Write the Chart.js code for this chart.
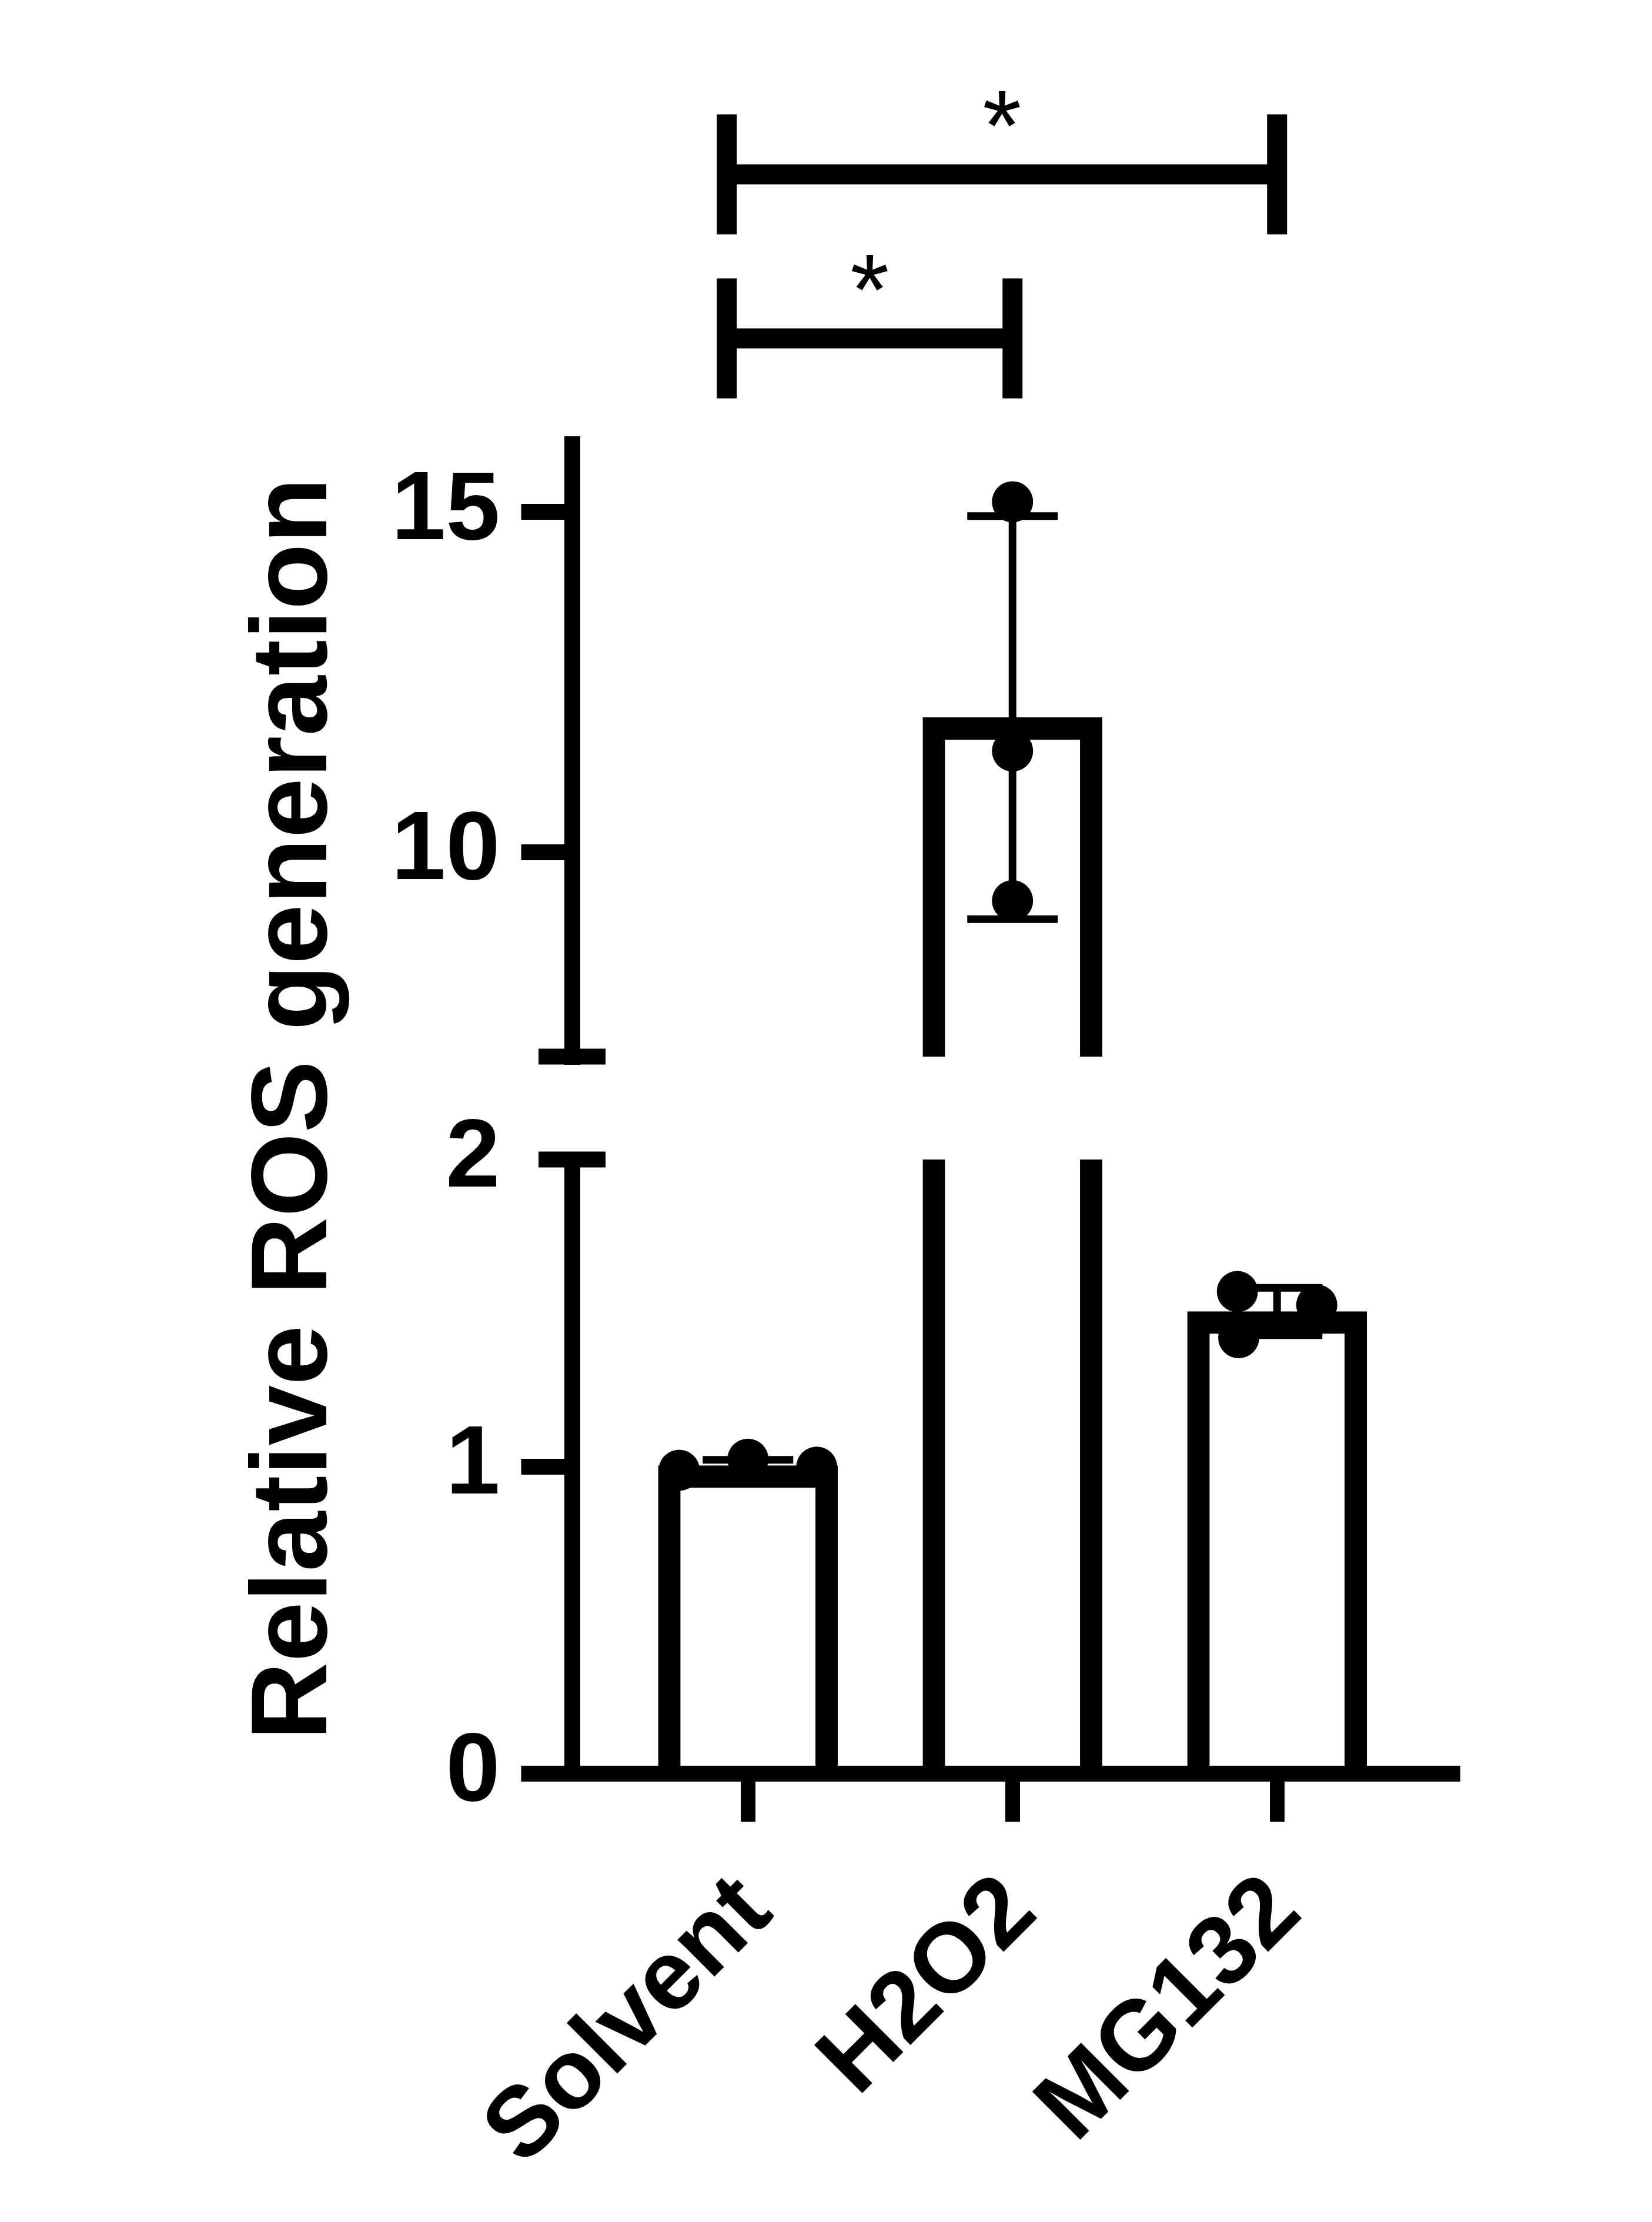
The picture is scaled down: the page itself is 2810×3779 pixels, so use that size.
<!DOCTYPE html>
<html>
<head>
<meta charset="utf-8">
<script src="https://cdn.jsdelivr.net/npm/chart.js@4.4.1/dist/chart.umd.min.js"></script>
<style>
  html, body { margin: 0; padding: 0; background: #ffffff; }
  canvas { display: block; }
</style>
</head>
<body>
<canvas id="chart" width="2810" height="3779" style="width:2810px;height:3779px"></canvas>
<script>
// ---------------- data ----------------
const CATEGORIES = ['Solvent', 'H2O2', 'MG132'];
const BAR_MEANS = [1.003, 11.98, 1.505];
const BAR_SD = [0.019, 2.96, 0.077];
const POINTS_SOLVENT = [0.988, 1.024, 0.998];
const POINTS_H2O2 = [15.15, 11.49, 9.29];
const POINTS_MG132 = [1.570, 1.420, 1.526];
// horizontal scatter spread of the replicate dots (category units)
const JITTER_SOLVENT = [-0.26, 0, 0.26];
const JITTER_H2O2 = [0, 0, 0];
const JITTER_MG132 = [-0.15, -0.145, 0.15];
const Y_LOW_TICKS = [0, 1, 2];
const Y_HIGH_TICKS = [10, 15];
const Y_LOW_RANGE = [0, 2];
const Y_HIGH_RANGE = [7, 16];
const SIG_PAIRS = [[0, 1], [0, 2]];
const SIG_LEVELS = [17.55, 19.96];
const SIG_LABELS = ['*', '*'];
const Y_TITLE = 'Relative ROS generation';

// ---------------- style ----------------
const FONT = '"Liberation Sans", Arial, sans-serif';
const AXIS_W = 27;
const BAR_BORDER = 38;
const BAR_WIDTH = 305;
const DOT_R = 35;
const ERR_W = 13;
const ERR_CAP = 77;
const BREAK_CAP = 57;
const BRACKET_W = 34;
const BRACKET_ARM = 102;
const BRACKET_LEFT_SHIFT = -36;

const pointGroups = [POINTS_SOLVENT, POINTS_H2O2, POINTS_MG132];
const jitterGroups = [JITTER_SOLVENT, JITTER_H2O2, JITTER_MG132];
const pointData = [];
pointGroups.forEach((g, i) => g.forEach((v, k) => pointData.push({ x: i + jitterGroups[i][k], y: v })));
const barData = BAR_MEANS.map((m, i) => ({ x: i, y: m }));

const barStyle = {
  type: 'bar', xAxisID: 'x', backgroundColor: '#ffffff', borderColor: '#000000',
  borderWidth: BAR_BORDER, borderSkipped: 'start', barThickness: BAR_WIDTH, grouped: false, order: 3
};
const dotStyle = {
  type: 'scatter', xAxisID: 'x', showLine: false, pointRadius: DOT_R, pointHoverRadius: DOT_R,
  pointBackgroundColor: '#000000', pointBorderWidth: 0, order: 1
};

// clip each dataset to the band of its own y scale (broken axis)
const breakClip = {
  id: 'breakClip',
  beforeDatasetDraw(chart, args) {
    const ys = args.meta.yScale;
    const ctx = chart.ctx;
    ctx.save();
    ctx.beginPath();
    ctx.rect(0, ys.top, chart.width, ys.bottom - ys.top);
    ctx.clip();
  },
  afterDatasetDraw(chart) { chart.ctx.restore(); }
};

const errorBars = {
  id: 'errorBars',
  afterDatasetsDraw(chart) {
    const { ctx, scales } = chart;
    const xs = scales.x;
    [scales.yLow, scales.yHigh].forEach(ys => {
      ctx.save();
      ctx.beginPath();
      ctx.rect(0, ys.top, chart.width, ys.bottom - ys.top);
      ctx.clip();
      ctx.strokeStyle = '#000';
      ctx.lineWidth = ERR_W;
      ctx.lineCap = 'butt';
      BAR_MEANS.forEach((m, i) => {
        const px = xs.getPixelForValue(i);
        const yt = ys.getPixelForValue(m + BAR_SD[i]);
        const yb = ys.getPixelForValue(m - BAR_SD[i]);
        ctx.beginPath();
        ctx.moveTo(px, yt); ctx.lineTo(px, yb);
        ctx.moveTo(px - ERR_CAP, yt); ctx.lineTo(px + ERR_CAP, yt);
        ctx.moveTo(px - ERR_CAP, yb); ctx.lineTo(px + ERR_CAP, yb);
        ctx.stroke();
      });
      ctx.restore();
    });
  }
};

const decorations = {
  id: 'decorations',
  afterDraw(chart) {
    const { ctx, scales } = chart;
    const xs = scales.x, yLow = scales.yLow, yHigh = scales.yHigh;
    const axisX = yLow.right;
    ctx.save();
    ctx.strokeStyle = '#000';
    ctx.fillStyle = '#000';
    ctx.lineCap = 'butt';
    // break caps
    ctx.lineWidth = AXIS_W;
    [[yLow, yLow.max], [yHigh, yHigh.min]].forEach(([s, v]) => {
      const py = s.getPixelForValue(v);
      ctx.beginPath();
      ctx.moveTo(axisX - BREAK_CAP, py); ctx.lineTo(axisX + BREAK_CAP, py);
      ctx.stroke();
    });
    // significance brackets
    ctx.lineWidth = BRACKET_W;
    ctx.font = 'normal 170px ' + FONT;
    ctx.textAlign = 'center';
    ctx.textBaseline = 'alphabetic';
    SIG_PAIRS.forEach(([a, b], k) => {
      const x1 = xs.getPixelForValue(a) + BRACKET_LEFT_SHIFT;
      const x2 = xs.getPixelForValue(b);
      const py = yHigh.getPixelForValue(SIG_LEVELS[k]);
      ctx.beginPath();
      ctx.moveTo(x1, py); ctx.lineTo(x2, py);
      ctx.moveTo(x1, py - BRACKET_ARM); ctx.lineTo(x1, py + BRACKET_ARM);
      ctx.moveTo(x2, py - BRACKET_ARM); ctx.lineTo(x2, py + BRACKET_ARM);
      ctx.stroke();
      ctx.fillText(SIG_LABELS[k], (x1 + x2) / 2, py - 24);
    });
    // y-axis title spanning both segments
    ctx.font = 'bold 184px ' + FONT;
    ctx.translate(555, (yHigh.top + yLow.bottom) / 2);
    ctx.rotate(-Math.PI / 2);
    ctx.textAlign = 'center';
    ctx.textBaseline = 'alphabetic';
    ctx.fillText(Y_TITLE, 0, 0);
    ctx.restore();
  }
};

const yCommon = (ticks, range, weight, stackWeight) => ({
  type: 'linear', position: 'left', stack: 'y', stackWeight: stackWeight, weight: weight,
  min: range[0], max: range[1], z: 1, offset: false,
  afterBuildTicks: (s) => { s.ticks = ticks.map(v => ({ value: v })); },
  afterFit: (s) => { s.width = 973; },
  border: { display: true, color: '#000', width: AXIS_W },
  grid: {
    display: true, drawOnChartArea: false, drawTicks: true, tickLength: 86.5, offset: false,
    lineWidth: AXIS_W, tickWidth: AXIS_W,
    color: '#000',
    tickColor: (c) => (c.tick && c.tick.value === range[1] && range === Y_LOW_RANGE) ? 'rgba(0,0,0,0)' : '#000'
  },
  ticks: {
    color: '#000', padding: 36, font: { family: FONT, size: 166, weight: 'bold' },
    callback: (v) => String(v)
  }
});

Chart.defaults.font.family = FONT;

new Chart(document.getElementById('chart'), {
  type: 'bar',
  data: {
    datasets: [
      Object.assign({ data: barData, yAxisID: 'yLow' }, barStyle),
      Object.assign({ data: barData, yAxisID: 'yHigh' }, barStyle),
      Object.assign({ data: pointData, yAxisID: 'yLow' }, dotStyle),
      Object.assign({ data: pointData, yAxisID: 'yHigh' }, dotStyle)
    ]
  },
  options: {
    responsive: false,
    animation: false,
    devicePixelRatio: 1,
    layout: { padding: { left: 0, top: 755, right: 338.5, bottom: 0 } },
    plugins: { legend: { display: false }, tooltip: { enabled: false } },
    scales: {
      x: {
        type: 'linear', position: 'bottom', min: -0.665, max: 2.665, z: 1,
        offset: false, bounds: 'data',
        afterBuildTicks: (s) => { s.ticks = CATEGORIES.map((c, i) => ({ value: i })); },
        afterFit: (s) => { s.height = 762.5; },
        border: { display: true, color: '#000', width: AXIS_W },
        grid: { display: true, offset: false, drawOnChartArea: false, drawTicks: true, tickLength: 82, lineWidth: 25, tickWidth: 25, color: '#000', tickColor: '#000' },
        ticks: {
          color: '#000', autoSkip: false, minRotation: 45, maxRotation: 45,
          padding: 55, labelOffset: 14,
          font: { family: FONT, size: 168, weight: 'bold' },
          callback: (v) => CATEGORIES[v]
        }
      },
      yLow: yCommon(Y_LOW_TICKS, Y_LOW_RANGE, 1, 1044.5),
      yGap: {
        type: 'linear', position: 'left', stack: 'y', stackWeight: 175, weight: 2, min: 0, max: 1,
        afterFit: (s) => { s.width = 973; },
        border: { display: false }, grid: { display: false, drawTicks: false }, ticks: { display: false }
      },
      yHigh: yCommon(Y_HIGH_TICKS, Y_HIGH_RANGE, 3, 1042)
    }
  },
  plugins: [breakClip, errorBars, decorations]
});
</script>
</body>
</html>
